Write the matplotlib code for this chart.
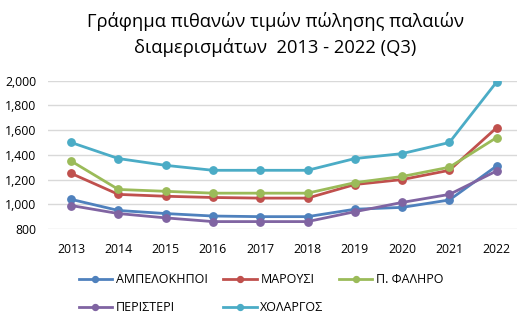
import matplotlib.pyplot as plt

plt.rcParams['font.family'] = ['Open Sans', 'DejaVu Sans']

years = [2013, 2014, 2015, 2016, 2017, 2018, 2019, 2020, 2021, 2022]
ampelokipoi = [1040, 950, 925, 905, 900, 900, 960, 975, 1035, 1310]
marousi = [1250, 1080, 1065, 1055, 1050, 1050, 1160, 1200, 1275, 1620]
faliro = [1350, 1120, 1105, 1090, 1090, 1090, 1175, 1225, 1300, 1540]
peristeri = [990, 925, 890, 860, 860, 860, 940, 1015, 1080, 1270]
cholargos = [1500, 1370, 1315, 1275, 1275, 1275, 1370, 1410, 1500, 1990]

names = ['ΑΜΠΕΛΟΚΗΠΟΙ', 'ΜΑΡΟΥΣΙ', 'Π. ΦΑΛΗΡΟ', 'ΠΕΡΙΣΤΕΡΙ', 'ΧΟΛΑΡΓΟΣ']
series = [ampelokipoi, marousi, faliro, peristeri, cholargos]
colors = ['#4F81BD', '#C0504D', '#9BBB59', '#8064A2', '#4BACC6']

fig = plt.figure(figsize=(5.17, 3.28), dpi=100)
ax = fig.add_axes([47.5 / 517, 0.3018, 1 - 47.5 / 517, 0.754 - 0.3018])

x = list(range(len(years)))
lines = []
for vals, name, col in zip(series, names, colors):
    ln, = ax.plot(x, vals, color=col, lw=2, marker='o', ms=5.3, label=name)
    lines.append(ln)

ax.set_xlim(-0.5, 9.43)
ax.set_ylim(800, 2000)
ax.set_yticks(range(800, 2001, 200))
ax.yaxis.set_major_formatter(plt.FuncFormatter(lambda v, p: f'{int(v):,}'))
ax.set_xticks(x)
ax.set_xticklabels([str(y) for y in years])
ax.grid(axis='y', color='#D9D9D9', lw=1)
ax.set_axisbelow(True)
for s in ax.spines.values():
    s.set_visible(False)
ax.tick_params(length=0, labelsize=8.8, colors='black')
ax.tick_params(axis='x', pad=10)
ax.tick_params(axis='y', pad=8)

fig.text(0.532, 0.895, 'Γράφημα πιθανών τιμών πώλησης παλαιών\nδιαμερισμάτων  2013 - 2022 (Q3)',
         ha='center', va='center', fontsize=13.2, linespacing=1.45)

# row-wise order like excel: legend fills column by column
order = [0, 3, 1, 4, 2]
fig.legend([lines[i] for i in order], [names[i] for i in order],
           loc='center', bbox_to_anchor=(0.505, 0.105), ncol=3, frameon=False,
           fontsize=9, handlelength=2.7, columnspacing=1.2, handletextpad=0.3,
           labelspacing=1.2, markerscale=0.8)

fig.savefig('out.png', dpi=100)
